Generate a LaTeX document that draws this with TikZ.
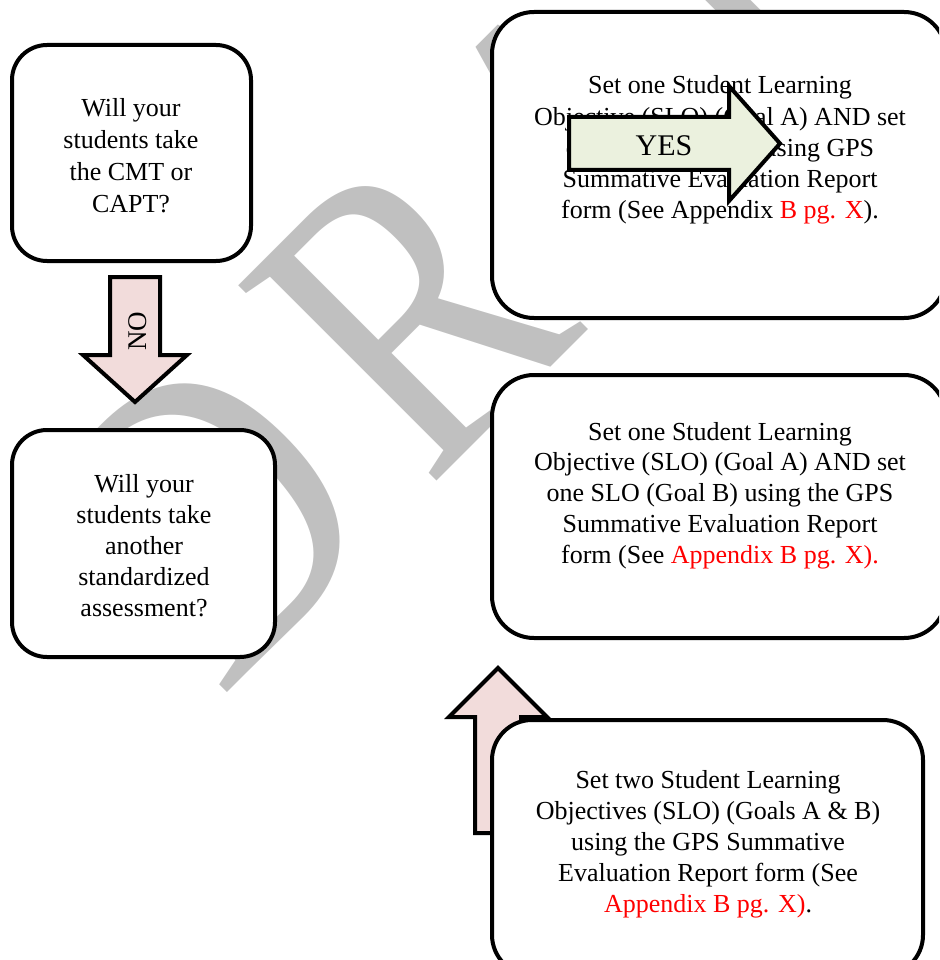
\documentclass[tikz,border=0pt]{standalone}
\usepackage{fontspec}
\usepackage{graphicx}
\setmainfont{Liberation Serif}
\definecolor{wmgray}{HTML}{C0C0C0}
\definecolor{pinkfill}{HTML}{F2DCDB}
\definecolor{greenfill}{HTML}{EBF1DE}
\begin{document}
\begin{tikzpicture}[x=1pt,y=-1pt,
  box/.style={draw=black, line width=4pt, fill=white, rounded corners=#1, inner sep=0pt},
  box/.default=38pt,
  line/.style={font=\fontsize{26}{31}\selectfont, inner sep=0pt, anchor=base},
  wm/.style={text=wmgray, font=\fontsize{425}{425}\selectfont, rotate=45, anchor=base west, inner sep=0pt},
  blockarrow/.style={draw=black, line width=4pt, miter limit=10}]
\useasboundingbox (0,0) rectangle (939,960);
\clip (0,0) rectangle (939,960);
% watermark
\node[wm] (wmD) at (220.3,699.7) {\scalebox{0.8}[1]{D}};
\node[wm] (wmR) at (428,490) {\scalebox{0.8}[1]{R}};
\node[wm] (wmA) at (600,320) {\scalebox{0.8}[1]{A}};
\node[wm] (wmF) at (785,135) {\scalebox{0.8}[1]{F}};
% left column
\node[box=35pt, minimum width=239pt, minimum height=216pt] (b1) at (131.5,153) {};
\foreach \t [count=\i] in {Will your, students take, the CMT or, CAPT?}
  \node[line] (q1-\i) at (131,{117+31.7*(\i-1)}) {\t};
\draw[blockarrow, fill=pinkfill] (110,277) -- (160,277) -- (160,355) -- (187,355) -- (135,402) -- (83,355) -- (110,355) -- cycle;
\node[font=\fontsize{27}{27}\selectfont, rotate=90, anchor=base, inner sep=0pt] (no) at (146,331) {NO};
\node[box=35pt, minimum width=263pt, minimum height=227pt] (b2) at (143.5,543.5) {};
\foreach \t [count=\i] in {Will your, students take, another, standardized, assessment?}
  \node[line] (q2-\i) at (144,{492+31*(\i-1)}) {\t};
% right column
\node[box=42pt, minimum width=454pt, minimum height=306pt] (b3) at (719,165) {};
\foreach \t [count=\i] in {Set one Student Learning, Objective (SLO) (Goal A) AND set, one SLO (Goal B) using GPS, Summative Evaluation Report, form (See Appendix \textcolor{red}{B pg. X}).}
  \node[line] (a3-\i) at (720,{94+31.2*(\i-1)}) {\t};
\draw[blockarrow, fill=greenfill] (569,117) -- (729,117) -- (729,86) -- (780,143.5) -- (729,201) -- (729,170) -- (569,170) -- cycle;
\node[font=\fontsize{30}{30}\selectfont, anchor=base, inner sep=0pt] (yes) at (664,156) {YES};
\node[box=42pt, minimum width=454pt, minimum height=263pt] (b4) at (719,506.5) {};
\foreach \t [count=\i] in {Set one Student Learning, Objective (SLO) (Goal A) AND set, one SLO (Goal B) using the GPS, Summative Evaluation Report, form (See \textcolor{red}{Appendix B pg. X).}}
  \node[line] (a4-\i) at (720,{440+30.8*(\i-1)}) {\t};
\draw[blockarrow, fill=pinkfill] (475,833) -- (475,717) -- (449,717) -- (498,668) -- (547,717) -- (521,717) -- (521,833) -- cycle;
\node[box=40pt, minimum width=431pt, minimum height=255pt] (b5) at (707.5,847.5) {};
\foreach \t [count=\i] in {Set two Student Learning, Objectives (SLO) (Goals A \& B), using the GPS Summative, Evaluation Report form (See, \textcolor{red}{Appendix B pg. X)}.}
  \node[line] (a5-\i) at (708,{788+31*(\i-1)}) {\t};
\end{tikzpicture}
\end{document}
